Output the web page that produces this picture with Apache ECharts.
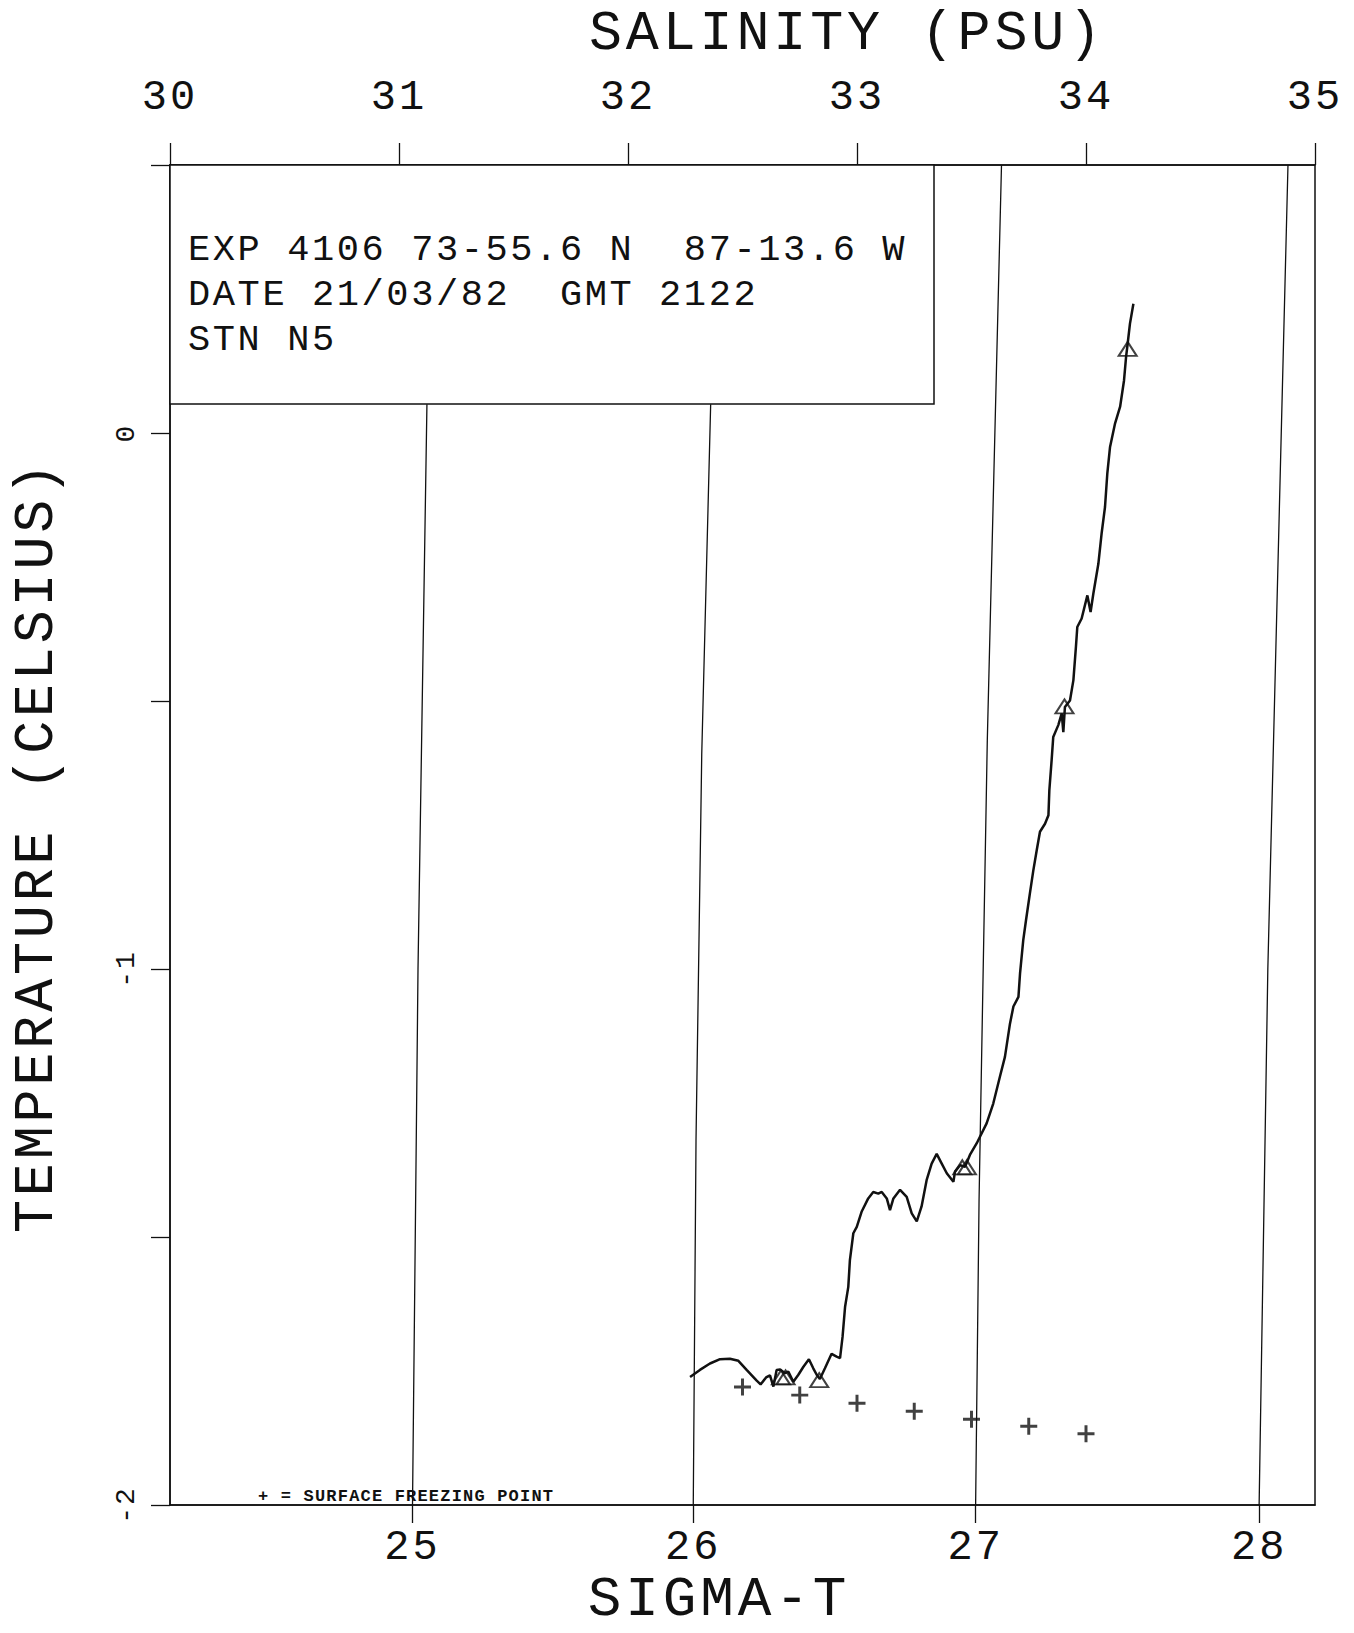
<!DOCTYPE html>
<html><head><meta charset="utf-8">
<script src="https://cdn.jsdelivr.net/npm/echarts@6/dist/echarts.min.js"></script>
<style>
html,body{margin:0;padding:0;background:#fff;}
#chart{width:1354px;height:1633px;}
#chart text{letter-spacing:0.07em;white-space:pre;}
</style></head><body><div id="chart"></div>
<script>
// ---- axis ticks / labels ----
const salinityRange = [30, 35];
const tempRange = [-2, 0.5];
const tempLabelValues = [-2, -1, 0];
const sigmaLabels = ['25', '26', '27', '28'];
const sigmaBottomS = [31.059, 32.285, 33.518, 34.756]; // salinity where each isopycnal meets T=-2

// ---- isopycnals (sigma-t) ----
const iso25S = [31.059, 31.083, 31.122];
const iso25T = [-2, -1.0, 0.0535];
const iso26S = [32.285, 32.297, 32.322, 32.361];
const iso26T = [-2, -1.32, -0.6, 0.0535];
const iso27S = [33.518, 33.533, 33.569, 33.631];
const iso27T = [-2, -1.431, -0.573, 0.5];
const iso28S = [34.756, 34.794, 34.882];
const iso28T = [-2, -1.0, 0.5];

// ---- T-S profile ----
const profileS = [32.271,32.314,32.358,32.402,32.445,32.482,32.518,32.562,32.579,32.603,32.620,32.635,32.649,32.664,32.686,32.700,32.722,32.744,32.766,32.790,32.809,32.824,32.838,32.860,32.889,32.911,32.926,32.937,32.948,32.962,32.969,32.984,32.999,33.020,33.049,33.071,33.093,33.108,33.130,33.144,33.159,33.188,33.217,33.239,33.261,33.282,33.304,33.326,33.348,33.370,33.392,33.421,33.428,33.450,33.472,33.493,33.523,
33.537,33.566,33.595,33.624,33.646,33.668,33.683,33.705,33.712,33.726,33.738,33.755,33.770,33.785,33.799,33.821,33.836,33.840,33.850,
33.857,33.879,33.894,33.901,33.908,33.930,33.945,33.956,33.962,33.981,34.006,34.020,34.032,34.054,34.068,34.083,34.093,34.105,34.127,34.149,34.166,34.175,34.182,34.192,34.207];
const profileT = [-1.761,-1.748,-1.736,-1.728,-1.727,-1.731,-1.748,-1.768,-1.775,-1.762,-1.758,-1.779,-1.748,-1.747,-1.754,-1.751,-1.770,-1.757,-1.742,-1.728,-1.745,-1.757,-1.765,-1.745,-1.718,-1.723,-1.726,-1.686,-1.630,-1.593,-1.543,-1.493,-1.481,-1.453,-1.428,-1.416,-1.419,-1.416,-1.428,-1.450,-1.428,-1.412,-1.425,-1.456,-1.471,-1.443,-1.394,-1.363,-1.345,-1.363,-1.381,-1.397,-1.378,-1.366,-1.369,-1.347,-1.325,
-1.313,-1.288,-1.251,-1.201,-1.164,-1.102,-1.070,-1.052,-1.008,-0.946,-0.909,-0.859,-0.816,-0.778,-0.744,-0.729,-0.713,-0.666,-0.610,
-0.567,-0.545,-0.523,-0.558,-0.511,-0.499,-0.461,-0.399,-0.362,-0.346,-0.303,-0.334,-0.300,-0.244,-0.188,-0.138,-0.076,-0.026,0.018,0.049,0.098,0.142,0.167,0.204,0.241];

// ---- triangle markers on the profile ----
const triS = [34.182, 33.906, 33.460, 33.480, 32.668, 32.688, 32.835];
const triT = [0.157, -0.510, -1.370, -1.370, -1.762, -1.762, -1.767];

// ---- surface freezing points ----
const freezeS = [32.5, 32.75, 33.0, 33.25, 33.5, 33.75, 34.0];
const freezeT = [-1.780, -1.795, -1.810, -1.825, -1.840, -1.853, -1.867];

// ---- texts ----
const salinityTitle = 'SALINITY (PSU)';
const sigmaTitle = 'SIGMA-T';
const tempTitle = 'TEMPERATURE (CELSIUS)';
const infoLines = ['EXP 4106 73-55.6 N  87-13.6 W', 'DATE 21/03/82  GMT 2122', 'STN N5'];
const legendText = '+ = SURFACE FREEZING POINT';

const zip = (a, b) => a.map((v, i) => [v, b[i]]);
const FONT = "'Liberation Mono', 'DejaVu Sans Mono', monospace";
const INK = '#111';
const PLUS = 'path://M6.6,0H9.4V6.6H16V9.4H9.4V16H6.6V9.4H0V6.6H6.6Z';

function isoSeries(name, s, t) {
  return { name, type: 'line', xAxisIndex: 0, yAxisIndex: 0, data: zip(s, t),
    showSymbol: false, symbol: 'none', silent: true,
    lineStyle: { color: INK, width: 1.3 }, z: 2 };
}

const chart = echarts.init(document.getElementById('chart'), null, { renderer: 'svg' });
chart.setOption({
  backgroundColor: '#fff',
  animation: false,
  grid: { left: 170, right: 39, top: 165, bottom: 128, show: true, borderColor: INK, borderWidth: 1.5, backgroundColor: 'transparent' },
  xAxis: [
    { type: 'value', position: 'top', min: salinityRange[0], max: salinityRange[1], interval: 1,
      axisLine: { show: true, onZero: false, lineStyle: { color: INK, width: 1.5 } },
      axisTick: { show: true, inside: false, length: 22, lineStyle: { color: INK, width: 1.3 } },
      axisLabel: { show: true, margin: 46, fontFamily: FONT, fontSize: 42, color: INK },
      splitLine: { show: false } },
    { type: 'value', position: 'bottom', min: salinityRange[0], max: salinityRange[1],
      axisLine: { show: true, onZero: false, lineStyle: { color: INK, width: 1.5 } },
      axisTick: { show: true, inside: false, length: 18, customValues: sigmaBottomS, lineStyle: { color: INK, width: 1.3 } },
      axisLabel: { show: true, margin: 22, customValues: sigmaBottomS, fontFamily: FONT, fontSize: 42, color: INK,
        formatter: v => { const i = sigmaBottomS.indexOf(v); return i >= 0 ? sigmaLabels[i] : ''; } },
      splitLine: { show: false } }
  ],
  yAxis: [
    { type: 'value', min: tempRange[0], max: tempRange[1], interval: 0.5,
      axisLine: { show: true, onZero: false, lineStyle: { color: INK, width: 1.5 } },
      axisTick: { show: true, inside: false, length: 19, lineStyle: { color: INK, width: 1.3 } },
      axisLabel: { show: true, rotate: 90, margin: 30, customValues: tempLabelValues, fontFamily: FONT, fontSize: 28, color: INK,
        formatter: v => String(v) },
      splitLine: { show: false } }
  ],
  series: [
    isoSeries('σt 25', iso25S, iso25T),
    isoSeries('σt 26', iso26S, iso26T),
    isoSeries('σt 27', iso27S, iso27T),
    isoSeries('σt 28', iso28S, iso28T),
    { name: 'T-S profile', type: 'line', data: zip(profileS, profileT), showSymbol: false, symbol: 'none',
      lineStyle: { color: INK, width: 2.5 }, z: 3 },
    { name: 'markers', type: 'scatter', data: zip(triS, triT), symbol: 'triangle', symbolSize: [18, 14],
      itemStyle: { color: 'transparent', borderColor: INK, borderWidth: 2 }, z: 4 },
    { name: 'surface freezing point', type: 'scatter', data: zip(freezeS, freezeT),
      symbol: PLUS, symbolSize: 17,
      itemStyle: { color: INK, borderWidth: 0 }, z: 4 }
  ],
  graphic: [
    { type: 'rect', shape: { x: 170, y: 165, width: 764, height: 239 }, style: { fill: '#fff', stroke: INK, lineWidth: 1.5 }, z: 5 },
    { type: 'text', x: 188, y: 250, z: 6, style: { text: infoLines[0], font: `37px ${FONT}`, fill: INK, textAlign: 'left', textVerticalAlign: 'middle' } },
    { type: 'text', x: 188, y: 295, z: 6, style: { text: infoLines[1], font: `37px ${FONT}`, fill: INK, textAlign: 'left', textVerticalAlign: 'middle' } },
    { type: 'text', x: 188, y: 340, z: 6, style: { text: infoLines[2], font: `37px ${FONT}`, fill: INK, textAlign: 'left', textVerticalAlign: 'middle' } },
    { type: 'text', x: 847, y: 34, z: 6, style: { text: salinityTitle, font: `55px ${FONT}`, fill: INK, textAlign: 'center', textVerticalAlign: 'middle' } },
    { type: 'text', x: 719, y: 1600, z: 6, style: { text: sigmaTitle, font: `56px ${FONT}`, fill: INK, textAlign: 'center', textVerticalAlign: 'middle' } },
    { type: 'text', x: 37, y: 846, rotation: Math.PI / 2, z: 6, style: { text: tempTitle, font: `55px ${FONT}`, fill: INK, textAlign: 'center', textVerticalAlign: 'middle' } },
    { type: 'text', x: 258, y: 1496, z: 6, style: { text: legendText, font: `bold 17px ${FONT}`, fill: INK, textAlign: 'left', textVerticalAlign: 'middle' } }
  ]
});
</script></body></html>
